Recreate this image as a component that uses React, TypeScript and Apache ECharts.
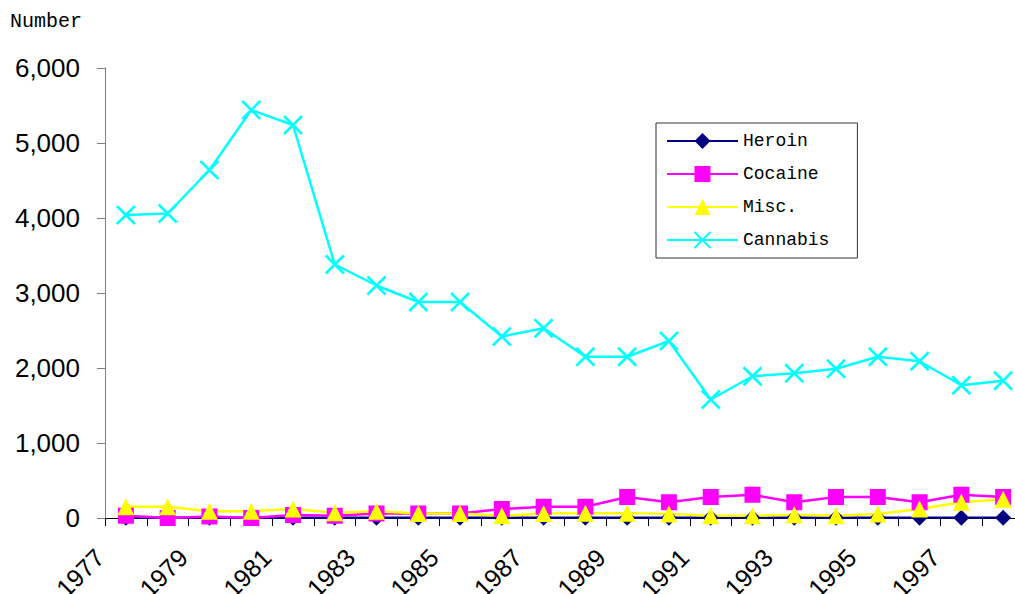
import React, { useEffect, useRef } from "react";
import * as echarts from "echarts";

const years = [
  "1977", "1978", "1979", "1980", "1981", "1982", "1983", "1984", "1985", "1986", "1987",
  "1988", "1989", "1990", "1991", "1992", "1993", "1994", "1995", "1996", "1997", "1998",
];
const heroin = [5, 5, 5, 5, 5, 5, 5, 5, 5, 5, 5, 5, 5, 5, 5, 5, 5, 5, 5, 5, 5, 5];
const cocaine = [30, 0, 20, 0, 40, 30, 60, 60, 60, 120, 150, 150, 280, 210, 280, 310, 210, 280, 280, 210, 310, 280];
const misc = [150, 150, 90, 90, 120, 70, 90, 60, 60, 30, 60, 65, 65, 55, 30, 30, 45, 30, 55, 120, 210, 250];
const cannabis = [4040, 4060, 4640, 5440, 5240, 3380, 3100, 2880, 2880, 2420, 2530, 2150, 2150, 2360, 1580, 1890, 1930, 1990, 2150, 2090, 1770, 1830];

const yTicks = { min: 0, max: 6000, interval: 1000 };

export default function App() {
  const ref = useRef<HTMLDivElement>(null);
  useEffect(() => {
    if (!ref.current) return;
    const chart = echarts.init(ref.current, null, { renderer: "svg" });
    const sans = "'Liberation Sans', Arial, sans-serif";
    const mono = "'Liberation Mono', 'Courier New', monospace";
    chart.setOption({
      animation: false,
      backgroundColor: "#ffffff",
      grid: {
        left: 105,
        top: 68,
        bottom: 76,
        right: -9,
        containLabel: false,
        outerBoundsMode: "none",
      },
      graphic: [
        {
          type: "text",
          left: 10,
          top: 11,
          style: { text: "Number", font: `20px ${mono}`, fill: "#000" },
        },
      ],
      legend: {
        orient: "vertical",
        left: 656,
        top: 123,
        itemWidth: 71,
        itemHeight: 20,
        itemGap: 13,
        padding: [8, 28, 8, 10],
        borderColor: "#333",
        borderWidth: 1,
        textStyle: { fontFamily: mono, fontSize: 18, color: "#000", lineHeight: 20 },
        data: ["Heroin", "Cocaine", "Misc.", "Cannabis"],
      },
      xAxis: {
        type: "category",
        data: years,
        boundaryGap: true,
        axisLine: { lineStyle: { color: "#000", width: 1 } },
        axisTick: { show: true, interval: 0, length: 8, lineStyle: { color: "#000" } },
        axisLabel: {
          interval: 1,
          rotate: 45,
          margin: 9,
          padding: [0, 37, 0, 0],
          fontFamily: sans,
          fontSize: 25,
          color: "#000",
        },
        splitLine: { show: false },
      },
      yAxis: {
        type: "value",
        min: yTicks.min,
        max: yTicks.max,
        interval: yTicks.interval,
        axisLine: { show: true, lineStyle: { color: "#808080", width: 1 } },
        axisTick: { show: true, length: 8, lineStyle: { color: "#808080" } },
        axisLabel: {
          margin: 25,
          fontFamily: sans,
          fontSize: 26,
          color: "#000",
          formatter: (v: number) => v.toLocaleString("en-US"),
        },
        splitLine: { show: false },
      },
      series: [
        {
          name: "Heroin",
          type: "line",
          data: heroin,
          symbol: "diamond",
          symbolSize: 16,
          lineStyle: { color: "#000080", width: 2.5 },
          itemStyle: { color: "#000080" },
        },
        {
          name: "Cocaine",
          type: "line",
          data: cocaine,
          symbol: "rect",
          symbolSize: 16,
          lineStyle: { color: "#ff00ff", width: 2.5 },
          itemStyle: { color: "#ff00ff" },
        },
        {
          name: "Misc.",
          type: "line",
          data: misc,
          symbol: "triangle",
          symbolSize: 17,
          lineStyle: { color: "#ffff00", width: 2.5 },
          itemStyle: { color: "#ffff00" },
        },
        {
          name: "Cannabis",
          type: "line",
          data: cannabis,
          symbol: "path://M0,0L10,10M10,0L0,10",
          symbolSize: 18,
          lineStyle: { color: "#00ffff", width: 2.5 },
          itemStyle: { color: "#00ffff", borderColor: "#00ffff", borderWidth: 2.5 },
        },
      ],
    });
    return () => chart.dispose();
  }, []);
  return (
    <div
      ref={ref}
      style={{ position: "absolute", left: 0, top: 0, width: 1015, height: 594 }}
    />
  );
}
